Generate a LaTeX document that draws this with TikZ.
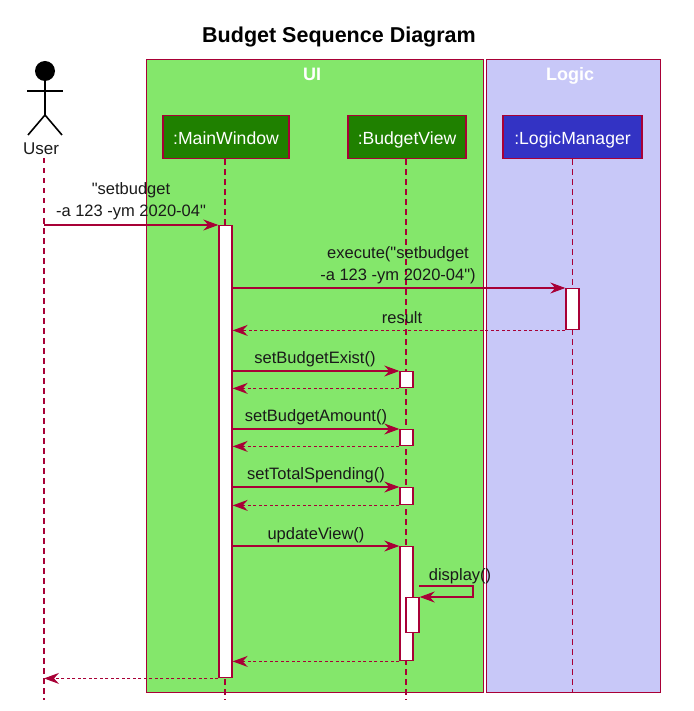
\documentclass[tikz,border=0pt]{standalone}
\usepackage{fontspec}
\setmainfont{Liberation Sans}
\usetikzlibrary{arrows.meta}
\definecolor{seqline}{HTML}{A80036}
\definecolor{uiback}{HTML}{84E76B}
\definecolor{uibox}{HTML}{1F8000}
\definecolor{logicback}{HTML}{C8C8F8}
\definecolor{logicbox}{HTML}{3333C4}
\definecolor{seqtext}{HTML}{1A1A1A}
\tikzset{
    swimbox/.style={draw=seqline, line width=1.3pt, anchor=north west, inner sep=0pt},
    swimlabel/.style={text=white, anchor=base, inner sep=0pt, font=\fontsize{18}{20}\selectfont\bfseries},
    partbox/.style={draw=seqline, line width=1.8pt, text=white, minimum height=43pt, inner sep=0pt, text height=16pt, text depth=0pt, font=\fontsize{17.6}{20}\selectfont},
    lifeline/.style={seqline, line width=1.1pt, dash pattern=on 5.5pt off 4.5pt},
    bar/.style={draw=seqline, line width=1.4pt, fill=white, anchor=north, minimum width=13pt, inner sep=0pt},
    msg/.style={seqline, line width=1.1pt, -{Stealth[length=15pt, width=11pt, inset=5pt]}},
    ret/.style={seqline, line width=1.1pt, dash pattern=on 3pt off 2.5pt, -{Stealth[length=15pt, width=11pt, inset=5pt]}},
    msglabel/.style={text=seqtext, align=center, inner sep=0pt, font=\fontsize{16.5}{22}\selectfont},
}
\begin{document}
\begin{tikzpicture}[x=1pt, y=-1pt]
    \useasboundingbox (0,0) rectangle (693,711);
    \node[font=\fontsize{21.5}{26}\selectfont\bfseries] (title) at (339,37) {Budget Sequence Diagram};
    % swim lanes
    \node[swimbox, fill=uiback, minimum width=337pt, minimum height=633pt] (ui) at (146,59) {};
    \node[swimbox, fill=logicback, minimum width=174pt, minimum height=633pt] (logic) at (486,59) {};
    \node[swimlabel] (uilabel) at (312,81) {UI};
    \node[swimlabel] (logiclabel) at (570,81) {Logic};
    % participants
    \node[partbox, fill=uibox, minimum width=126pt] (mainwindow) at (226,137) {:MainWindow};
    \node[partbox, fill=uibox, minimum width=118pt] (budgetview) at (407,137) {:BudgetView};
    \node[partbox, fill=logicbox, minimum width=139pt] (logicmanager) at (572.5,137) {:LogicManager};
    % actor
    \node[circle, fill=black, minimum size=20pt, inner sep=0pt] (userhead) at (45,71) {};
    \coordinate (userhip) at (45,115);
    \coordinate (userarml) at (27,91);
    \coordinate (userarmr) at (63,91);
    \coordinate (userlegl) at (28,135);
    \coordinate (userlegr) at (62,135);
    \draw[line width=1.6pt] (userhead) -- (userhip);
    \draw[line width=1.6pt] (userarml) -- (userarmr);
    \draw[line width=1.6pt] (userlegl) -- (userhip) -- (userlegr);
    \node[text=seqtext, inner sep=0pt, font=\fontsize{17}{20}\selectfont] (user) at (41,149) {User};
    % lifelines
    \coordinate (userend) at (44,700);
    \coordinate (mainend) at (225,700);
    \coordinate (budgetend) at (406,700);
    \coordinate (logicend) at (572.5,692);
    \coordinate (userstart) at (44,158);
    \draw[lifeline] (userstart) -- (userend);
    \draw[lifeline] (mainwindow.south -| mainend) -- (mainend);
    \draw[lifeline] (budgetview.south -| budgetend) -- (budgetend);
    \draw[lifeline] (logicmanager.south) -- (logicend);
    % activation bars
    \node[bar, minimum height=452pt] (mainbar) at (225.5,225) {};
    \node[bar, minimum height=41pt] (logicbar) at (572.5,288) {};
    \node[bar, minimum height=16pt] (existbar) at (406.5,371) {};
    \node[bar, minimum height=16pt] (amountbar) at (406.5,429) {};
    \node[bar, minimum height=17pt] (spendbar) at (406.5,487) {};
    \node[bar, minimum height=114pt] (viewbar) at (406.5,546) {};
    \node[bar, minimum height=35pt] (displaybar) at (412.5,597) {};
    % messages
    \draw[msg] (userend |- mainbar.north) -- (mainbar.north west);
    \draw[msg] (mainbar.east |- logicbar.north) -- (logicbar.north west);
    \draw[ret] (logicbar.south west) -- (mainbar.east |- logicbar.south);
    \draw[msg] (mainbar.east |- existbar.north) -- (existbar.north west);
    \draw[ret] (existbar.south west) -- (mainbar.east |- existbar.south);
    \draw[msg] (mainbar.east |- amountbar.north) -- (amountbar.north west);
    \draw[ret] (amountbar.south west) -- (mainbar.east |- amountbar.south);
    \draw[msg] (mainbar.east |- spendbar.north) -- (spendbar.north west);
    \draw[ret] (spendbar.south west) -- (mainbar.east |- spendbar.south);
    \draw[msg] (mainbar.east |- viewbar.north) -- (viewbar.north west);
    \coordinate (loopstart) at (419,586);
    \coordinate (loopcorner) at (473,586);
    \draw[msg] (loopstart) -- (loopcorner) -- (loopcorner |- displaybar.north east) -- (displaybar.north east);
    \draw[ret] (viewbar.south west) -- (mainbar.east |- viewbar.south);
    \draw[ret] (mainbar.south west) -- (userend |- mainbar.south);
    % message labels
    \node[msglabel] (m1) at (131,201) {\textquotedbl setbudget\\-a 123 -ym 2020-04\textquotedbl};
    \node[msglabel] (m2) at (398,265) {execute(\textquotedbl setbudget\\-a 123 -ym 2020-04\textquotedbl)};
    \node[msglabel] (m3) at (402,318) {result};
    \node[msglabel] (m4) at (315,359) {setBudgetExist()};
    \node[msglabel] (m5) at (316,417) {setBudgetAmount()};
    \node[msglabel] (m6) at (316,475) {setTotalSpending()};
    \node[msglabel] (m7) at (316,535) {updateView()};
    \node[msglabel] (m8) at (460,576) {display()};
\end{tikzpicture}
\end{document}
